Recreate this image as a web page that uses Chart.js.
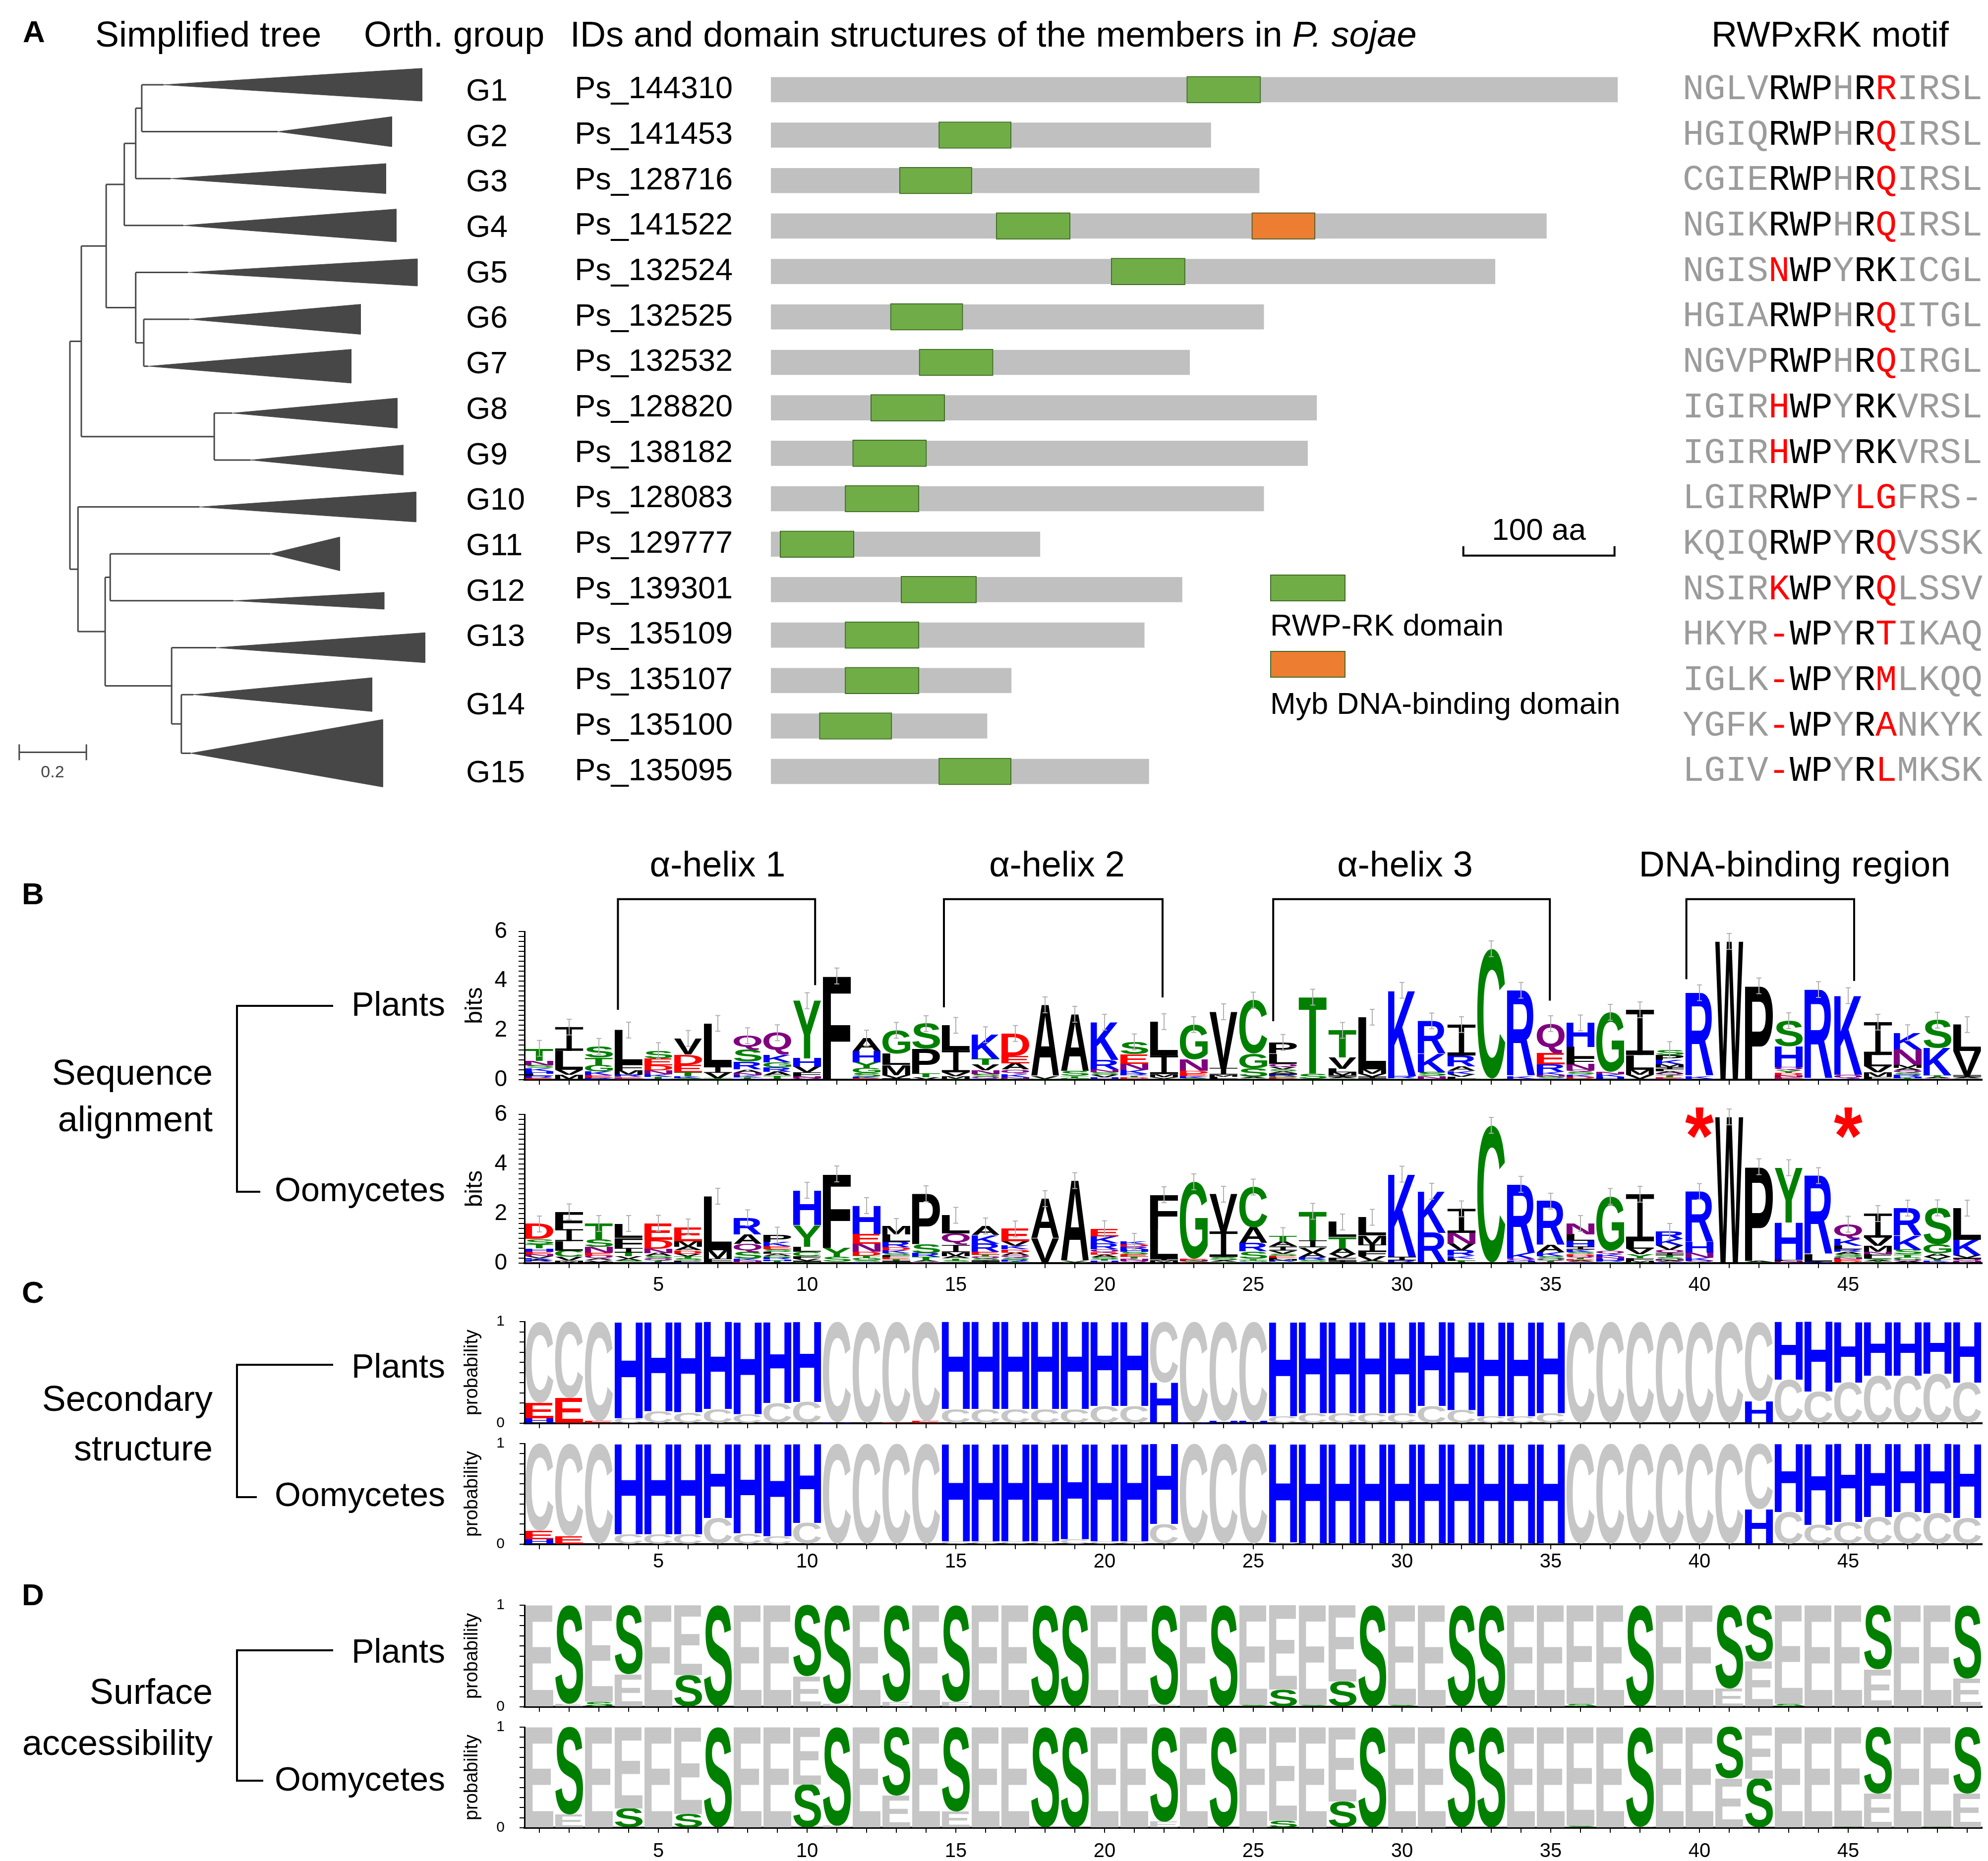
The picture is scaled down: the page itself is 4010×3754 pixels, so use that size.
<!DOCTYPE html>
<html>
<head>
<meta charset="utf-8">
<script src="https://cdn.jsdelivr.net/npm/chart.js@4.4.0/dist/chart.umd.min.js"></script>
<style>
  html, body { margin: 0; padding: 0; background: #fff; }
  body { position: relative; width: 4010px; height: 3754px; overflow: hidden; font-family: "Liberation Sans", Arial, sans-serif; color: #000; }
  canvas { position: absolute; }
  .lbl { position: absolute; white-space: nowrap; line-height: 1; }
  .brk { position: absolute; border: 0 solid #000; }
  .sw { position: absolute; box-sizing: border-box; border: 2px solid #3f6b25; }
</style>
</head>
<body>
<script>
const FONT = '"Liberation Sans", Arial, Helvetica, sans-serif';

// ===================== DATA =====================

// Panel A - simplified tree (branch lengths)
const treeNewick = "((((((G1:0.065,G2:0.405):0.018,G3:0.104):0.034,G4:0.176):0.054,(G5:0.156,(G6:0.136,G7:0.013):0.024):0.088):0.074,(G8:0.053,G9:0.108):0.396):0.034,(G10:0.362,((G11:0.477,G12:0.367):0.015,(G13:0.133,(G14:0.036,G15:0.028):0.029):0.198):0.081):0.024);";
const treeLeafRows = [0, 1, 2, 3, 4, 5, 6, 7, 8, 9, 10, 11, 12, 13, 14.25];
const treeTipX = [1.049, 0.959, 0.941, 0.972, 1.035, 0.866, 0.838, 0.975, 0.993, 1.031, 0.804, 0.936, 1.058, 0.900, 0.932];
const treeSpread = [0.35, 0.32, 0.32, 0.35, 0.29, 0.32, 0.36, 0.32, 0.32, 0.32, 0.36, 0.18, 0.32, 0.36, 0.72];
const treeScaleBar = 0.2;

// Panel A - members and domains (aa)
const proteinIds = ['Ps_144310', 'Ps_141453', 'Ps_128716', 'Ps_141522', 'Ps_132524', 'Ps_132525', 'Ps_132532', 'Ps_128820',
  'Ps_138182', 'Ps_128083', 'Ps_129777', 'Ps_139301', 'Ps_135109', 'Ps_135107', 'Ps_135100', 'Ps_135095'];
const groupNames = ['G1', 'G2', 'G3', 'G4', 'G5', 'G6', 'G7', 'G8', 'G9', 'G10', 'G11', 'G12', 'G13', 'G14', 'G15'];
const groupRows = [0, 1, 2, 3, 4, 5, 6, 7, 8, 9, 10, 11, 12, 13.5, 15];
const proteinLength = [560, 291, 323, 513, 479, 326, 277, 361, 355, 326, 178, 272, 247, 159, 143, 250];
const rwpStart = [275, 111, 85, 149, 225, 79, 98, 66, 54, 49, 6, 86, 49, 49, 32, 111];
const rwpEnd = [324, 159, 133, 198, 274, 127, 147, 115, 103, 98, 55, 136, 98, 98, 80, 159];
const mybStart = [null, null, null, 318, null, null, null, null, null, null, null, null, null, null, null, null];
const mybEnd = [null, null, null, 360, null, null, null, null, null, null, null, null, null, null, null, null];
const aaScaleBar = [458, 558];
const aaScaleRow = 10.25;

// Panel A - RWPxRK motif
const motifs = ['NGLVRWPHRRIRSL', 'HGIQRWPHRQIRSL', 'CGIERWPHRQIRSL', 'NGIKRWPHRQIRSL', 'NGISNWPYRKICGL', 'HGIARWPHRQITGL',
  'NGVPRWPHRQIRGL', 'IGIRHWPYRKVRSL', 'IGIRHWPYRKVRSL', 'LGIRRWPYLGFRS-', 'KQIQRWPYRQVSSK', 'NSIRKWPYRQLSSV',
  'HKYR-WPYRTIKAQ', 'IGLK-WPYRMLKQQ', 'YGFK-WPYRANKYK', 'LGIV-WPYRLMKSK'];
const motifRed = [[9], [9], [9], [9], [4], [9], [9], [4], [4], [8, 9], [9], [4, 9], [4, 9], [4, 9], [4, 9], [4, 9]];

// Panel B - sequence logos (letter + height in bits, per position 1..49)
const bPlants = [
  "T0.5 N0.18 K0.12 S0.12 H0.1 E0.08 R0.08 L0.09", "I0.96 L0.77 M0.2 V0.2", "S0.45 T0.32 G0.25 K0.15 E0.1 R0.08",
  "L1.4 F0.22 M0.18 R0.1 E0.06 K0.05", "S0.32 E0.28 D0.2 N0.15 K0.1 T0.08 R0.05", "V0.65 D0.42 E0.3 T0.15 K0.08 S0.07",
  "L1.75 I0.25 V0.22 T0.06", "Q0.55 S0.5 R0.32 A0.12 N0.1 K0.08 T0.06 H0.05", "Q0.9 K0.3 G0.2 R0.18 A0.15 T0.12 N0.05",
  "Y2.33 H0.35 V0.22 F0.15 N0.08 Q0.07", "F4.2", "A0.52 H0.46 Y0.22 G0.2 S0.16 E0.06 K0.06",
  "G0.95 L0.45 M0.42 V0.12 I0.06", "S1.02 P1.0 T0.15 V0.1", "L1.0 I0.9 V0.15 M0.1 T0.05",
  "K0.97 T0.25 V0.22 N0.15 S0.12 Q0.06 R0.05", "D0.9 E0.3 A0.26 Q0.17 K0.14 N0.06 S0.04", "A2.88 V0.1 S0.05",
  "A2.3 S0.2 T0.08 G0.07", "K1.53 R0.38 N0.12 V0.1 S0.1 Q0.05 H0.05", "S0.5 E0.38 N0.25 K0.15 R0.08 D0.06 T0.06 Q0.05",
  "L1.37 I0.75 M0.12 V0.06 F0.05", "G1.4 N0.47 D0.12 E0.1 K0.08 S0.06", "V2.27 I0.27 L0.08 M0.08 A0.05",
  "C2.17 G0.6 S0.34 A0.06 T0.05", "P0.45 L0.42 Q0.12 V0.1 A0.08 S0.08 I0.06 T0.05 E0.05 G0.05 R0.05", "T3.1 S0.2 A0.04",
  "T1.1 V0.45 L0.14 M0.12 I0.08 A0.06 S0.05", "L2.1 M0.18 V0.12 I0.08 A0.05", "K3.47 R0.1 S0.05",
  "R1.33 K0.75 S0.15 N0.1 Q0.05", "I1.25 R0.45 A0.18 K0.12 V0.1 L0.08 S0.05", "C5.25 S0.05",
  "R3.47 K0.1 Q0.05", "Q1.2 E0.45 R0.3 K0.12 N0.08 S0.07 H0.05", "H0.97 L0.45 F0.25 N0.22 S0.1 Q0.1 D0.08 K0.08 G0.05",
  "G2.4 K0.1 N0.1 H0.08 A0.05", "I1.83 L0.6 M0.2 V0.15 F0.05", "S0.22 P0.2 K0.18 I0.1 M0.1 Q0.08 A0.08 L0.08 T0.07 E0.06 H0.05",
  "R3.37 K0.1 H0.05", "W5.57 R0.03", "P3.77 A0.03",
  "S1.03 H0.85 Q0.12 D0.1 Y0.1 N0.08 E0.06 K0.05", "R3.6 K0.05", "K3.2 Q0.15 R0.05",
  "I1.33 L0.45 V0.25 M0.17 F0.08 A0.05", "K0.67 N0.63 M0.12 Q0.1 A0.1 R0.08 S0.08 T0.06 H0.06", "S1.13 K1.1 T0.08 N0.05 A0.05",
  "L1.07 V0.97 I0.08 A0.06 M0.05"
];
const bOomycetes = [
  "D0.6 S0.22 T0.16 H0.13 E0.1 V0.08 N0.08 K0.06 Q0.05 R0.05 A0.05", "F0.7 I0.48 L0.38 C0.25 V0.15 M0.06 A0.05",
  "T0.63 S0.32 N0.22 Q0.12 E0.12 A0.08 V0.06 I0.05", "L0.57 F0.42 I0.18 T0.15 V0.1 A0.08 M0.05 S0.05",
  "E0.67 D0.35 N0.18 A0.12 S0.1 Q0.08 T0.06 K0.05", "E0.57 M0.22 A0.16 D0.12 T0.1 V0.1 S0.08 P0.06 K0.05",
  "L2.17 M0.35 F0.12 I0.06", "R0.67 A0.38 Q0.32 S0.28 K0.08 E0.05 N0.05",
  "P0.27 K0.18 E0.12 S0.1 G0.08 A0.08 L0.08 R0.07 H0.06 T0.05 V0.04", "H1.4 Y0.87 L0.2 C0.19 F0.1 V0.08 S0.05 I0.05",
  "F2.97 Y0.38 S0.2 L0.05", "H1.13 E0.4 N0.33 D0.15 G0.1 T0.1 S0.06 K0.05",
  "M0.32 L0.3 R0.22 K0.12 D0.12 E0.08 F0.08 S0.08 T0.06 A0.05 I0.05", "P2.03 S0.37 R0.15 T0.14 A0.06 N0.05",
  "L0.73 Q0.47 I0.28 M0.16 A0.1 T0.08 S0.06 V0.05", "A0.37 K0.34 R0.33 E0.12 Q0.08 T0.08 S0.07 I0.06 V0.05",
  "E0.5 V0.18 K0.14 D0.13 A0.12 Q0.1 S0.08 R0.07 T0.06", "A1.6 V0.97 S0.03", "A3.23 V0.06 S0.04",
  "E0.3 K0.29 R0.24 Q0.12 A0.1 D0.1 S0.08 T0.06 N0.05 H0.05", "K0.12 E0.1 S0.1 H0.1 R0.1 D0.1 T0.08 N0.07 Q0.06 A0.05",
  "F1.37 L1.2 I0.08 M0.06 V0.05", "G3.1 N0.05 E0.05 D0.04 S0.04", "V1.5 I1.03 S0.14 A0.06 T0.05",
  "C1.63 A0.63 R0.34 S0.3 G0.06 T0.06 K0.05", "T0.24 A0.2 I0.16 V0.13 E0.08 S0.08 M0.06 L0.06 G0.05 R0.05",
  "T1.17 I0.28 V0.21 A0.2 R0.1 S0.08 L0.05", "L0.6 T0.47 A0.23 V0.14 F0.1 I0.07 M0.05",
  "L0.73 M0.37 I0.27 F0.2 V0.17 A0.06 T0.05", "K3.33 I0.15 R0.08 Q0.03", "K1.67 R1.2 Q0.03",
  "I0.97 N0.43 V0.27 R0.23 K0.1 L0.08 T0.06 A0.05", "C5.53 S0.03", "R2.77 K0.23 Q0.07 H0.06 S0.05",
  "R1.77 A0.3 K0.14 S0.13 Q0.06 N0.05 T0.05", "N0.43 L0.27 H0.23 I0.12 K0.1 D0.08 S0.08 Q0.07 E0.06 T0.06 R0.05 A0.05",
  "G2.2 Q0.12 K0.1 H0.08 N0.08 R0.06 S0.05", "I1.9 L0.3 V0.22 Y0.15 F0.1 M0.06 C0.05",
  "R0.3 K0.25 V0.18 Q0.13 I0.1 S0.08 T0.08 N0.06 H0.05 A0.05", "R2.03 H0.43 N0.2 K0.12 Q0.06 S0.05", "W5.9",
  "P3.8 A0.05 S0.04", "Y2.2 H1.5 F0.06 N0.05 Q0.04", "R3.17 L0.3 K0.06",
  "Q0.6 K0.27 L0.14 A0.1 R0.1 S0.08 E0.06 N0.06 G0.06 T0.05 D0.05", "I0.97 V0.33 M0.23 F0.1 N0.1 L0.08 S0.06 T0.05 A0.05 K0.03",
  "R1.1 K0.57 S0.2 T0.12 C0.1 A0.05 Q0.05 N0.03", "S1.47 G0.37 A0.13 V0.1 T0.06 N0.05 K0.05",
  "L1.27 K0.63 V0.1 Q0.06 I0.06 A0.05 N0.05"
];

// Panel C - secondary structure probability (C coil, H helix, E strand)
const cPlants = [
  "C0.8 E0.15 H0.05", "C0.75 E0.25", "C0.98 E0.02", "H0.95 C0.05", "H0.88 C0.12", "H0.89 C0.11", "H0.86 C0.14", "H0.91 C0.09", "H0.8 C0.2", "H0.79 C0.21",
  "C0.99 H0.01", "C1", "C0.99 E0.01", "C0.98 E0.02", "H0.86 C0.14", "H0.86 C0.14", "H0.86 C0.14", "H0.86 C0.14", "H0.86 C0.14", "H0.83 C0.17",
  "H0.83 C0.17", "C0.6 H0.4", "C0.99 H0.01", "C0.98 H0.02", "C0.98 H0.02", "H0.93 C0.07", "H0.9 C0.1", "H0.9 C0.1", "H0.9 C0.1", "H0.9 C0.1",
  "H0.83 C0.17", "H0.87 C0.13", "H0.93 C0.07", "H0.93 C0.07", "H0.9 C0.1", "C1", "C1", "C1", "C1", "C1",
  "C1", "C0.78 H0.22", "H0.57 C0.43", "H0.69 C0.31", "H0.6 C0.4", "H0.53 C0.47", "H0.53 C0.47", "H0.51 C0.49", "H0.6 C0.4"
];
const cOomycetes = [
  "C0.87 E0.08 H0.05", "C0.92 E0.08", "C1", "H0.9 C0.1", "H0.9 C0.1", "H0.9 C0.1", "H0.74 C0.26", "H0.89 C0.11", "H0.92 C0.08", "H0.79 C0.21",
  "C1", "C1", "C1", "C1", "H0.97 C0.03", "H0.97 C0.03", "H0.97 C0.03", "H0.97 C0.03", "H0.95 C0.05", "H0.97 C0.03",
  "H0.97 C0.03", "H0.8 C0.2", "C1", "C1", "C1", "H0.98 C0.02", "H0.99 C0.01", "H0.99 C0.01", "H0.99 C0.01", "H0.99 C0.01",
  "H0.99 C0.01", "H0.99 C0.01", "H0.99 C0.01", "H0.99 C0.01", "H0.99 C0.01", "C1", "C1", "C1", "C1", "C1",
  "C1", "C0.65 H0.35", "H0.68 C0.32", "H0.81 C0.19", "H0.78 C0.22", "H0.73 C0.27", "H0.68 C0.32", "H0.69 C0.31", "H0.74 C0.26"
];

// Panel D - surface accessibility probability (E exposed, S buried)
const dPlants = [
  "E1", "S0.97 E0.03", "E0.95 S0.05", "S0.68 E0.32", "E1", "E0.69 S0.31", "S1", "E1", "E1", "S0.7 E0.3",
  "S0.97 E0.03", "E1", "S0.95 E0.05", "E1", "S0.95 E0.05", "E1", "E1", "S1", "S1", "E1",
  "E1", "S0.98 E0.02", "E1", "S1", "E0.98 S0.02", "E0.83 S0.17", "E0.98 S0.02", "E0.75 S0.25", "S1", "E0.98 S0.02",
  "E1", "S1", "S1", "E1", "E1", "E0.97 S0.03", "E1", "S1", "E1", "E1",
  "S0.82 E0.18", "S0.55 E0.45", "E0.97 S0.03", "E1", "E1", "S0.63 E0.37", "E1", "E1", "S0.72 E0.28"
];
const dOomycetes = [
  "E1", "S0.87 E0.13", "E1", "E0.81 S0.19", "E1", "E0.86 S0.14", "S1", "E1", "E1", "E0.57 S0.43",
  "S0.98 E0.02", "E1", "S0.68 E0.32", "E1", "S0.84 E0.16", "E1", "E1", "S1", "S1", "E1",
  "E1", "S0.94 E0.06", "E1", "S1", "E1", "E0.93 S0.07", "E1", "E0.74 S0.26", "S1", "E1",
  "E1", "S1", "S1", "E1", "E1", "E0.98 S0.02", "E1", "S0.99 E0.01", "E1", "E1",
  "S0.51 E0.49", "E0.51 S0.49", "E1", "E1", "E0.99 S0.01", "S0.66 E0.34", "E1", "E0.99 S0.01", "S0.66 E0.34"
];

// annotations of the plant logo
const helixNames = ['\u03b1-helix 1', '\u03b1-helix 2', '\u03b1-helix 3', 'DNA-binding region'];
const helixFrom = [3.64, 14.6, 25.67, 39.56];
const helixTo = [10.27, 21.95, 34.97, 45.2];
const helixLeftEnd = [2.83, 2.93, 2.37, 4.07];
const helixRightEnd = [3.83, 3.33, 3.2, 4.0];
const helixLabelAt = [6.99, 18.4, 30.1, 43.2];
const bracketTopBits = 7.31;
const helixLabelBits = 8.23;
const starPositions = [40, 45];
const errorBits = 0.32;

const positions = Array.from({ length: 49 }, (_, i) => String(i + 1));

const chemColours = { G: '#008000', S: '#008000', T: '#008000', Y: '#008000', C: '#008000', N: '#800080', Q: '#800080',
  K: '#0000ff', R: '#0000ff', H: '#0000ff', D: '#ff0000', E: '#ff0000',
  A: '#000', V: '#000', L: '#000', I: '#000', P: '#000', W: '#000', F: '#000', M: '#000' };
const ssColours = { C: '#c6c6c6', H: '#0000ff', E: '#ff0000' };
const saColours = { E: '#c6c6c6', S: '#008000' };

// ===================== HELPERS =====================

function makeCanvas(left, top, w, h) {
  const c = document.createElement('canvas');
  c.width = w; c.height = h;
  c.style.left = left + 'px'; c.style.top = top + 'px';
  c.style.width = w + 'px'; c.style.height = h + 'px';
  document.body.appendChild(c);
  return c;
}

function label(html, x, y, size, align, extra) {
  const d = document.createElement('div');
  d.className = 'lbl';
  d.innerHTML = html;
  d.style.cssText = `left:${x}px;top:${y}px;font-size:${size}px;${extra || ''}`;
  d.style.transform = align === 'right' ? 'translate(-100%,-50%)' : align === 'center' ? 'translate(-50%,-50%)' : 'translateY(-50%)';
  document.body.appendChild(d);
}

function box(cls, left, top, w, h, css) {
  const d = document.createElement('div');
  d.className = cls;
  d.style.cssText = `left:${left}px;top:${top}px;width:${w}px;height:${h}px;${css || ''}`;
  document.body.appendChild(d);
}

const glyphCache = {};
function drawGlyph(ctx, ch, x, y, w, h, colour) {
  ctx.save();
  ctx.fillStyle = colour;
  if (ch === 'I') {
    // logo "I" has serifs: two bars and a narrow stem
    const bar = Math.max(1.5, h * 0.1), stem = w * 0.19;
    ctx.fillRect(x, y, w, bar);
    ctx.fillRect(x, y + h - bar, w, bar);
    ctx.fillRect(x + (w - stem) / 2, y, stem, h);
    ctx.restore();
    return;
  }
  ctx.font = `bold 200px ${FONT}`;
  ctx.textAlign = 'left';
  ctx.textBaseline = 'alphabetic';
  const m = glyphCache[ch] || (glyphCache[ch] = ctx.measureText(ch));
  const gw = m.actualBoundingBoxLeft + m.actualBoundingBoxRight;
  const gh = m.actualBoundingBoxAscent + m.actualBoundingBoxDescent;
  ctx.translate(x, y);
  ctx.scale(w / gw, h / gh);
  ctx.fillText(ch, m.actualBoundingBoxLeft, m.actualBoundingBoxAscent);
  ctx.restore();
}

function parseNewick(s) {
  let i = 0;
  function node() {
    const n = { children: [], name: '', len: 0 };
    if (s[i] === '(') {
      i++;
      n.children.push(node());
      while (s[i] === ',') { i++; n.children.push(node()); }
      i++;
    }
    while (i < s.length && !':,);'.includes(s[i])) n.name += s[i++];
    if (s[i] === ':') {
      i++;
      let num = '';
      while (i < s.length && !',);'.includes(s[i])) num += s[i++];
      n.len = parseFloat(num);
    }
    return n;
  }
  return node();
}

Chart.defaults.font.family = FONT;
Chart.defaults.color = '#000';

// ===================== PANEL A: TREE =====================

const tree = parseNewick(treeNewick);
const leaves = [];
(function place(n, x0) {
  n.x = x0 + n.len;
  if (!n.children.length) { n.y = treeLeafRows[leaves.length]; leaves.push(n); return; }
  n.children.forEach(c => place(c, n.x));
  n.y = (n.children[0].y + n.children[n.children.length - 1].y) / 2;
})(tree, 0);

const edgePts = [];
(function edges(n) {
  if (!n.children.length) return;
  const a = n.children[0], b = n.children[n.children.length - 1];
  edgePts.push({ x: n.x, y: a.y }, { x: n.x, y: b.y }, { x: null, y: null });
  n.children.forEach(c => {
    edgePts.push({ x: n.x, y: c.y }, { x: c.x, y: c.y }, { x: null, y: null });
    edges(c);
  });
})(tree);

// scale bar of the tree
const sbX = -0.151, sbY = 14.23;
edgePts.push({ x: sbX, y: sbY }, { x: sbX + treeScaleBar, y: sbY }, { x: null, y: null },
  { x: sbX, y: sbY - 0.17 }, { x: sbX, y: sbY + 0.17 }, { x: null, y: null },
  { x: sbX + treeScaleBar, y: sbY - 0.17 }, { x: sbX + treeScaleBar, y: sbY + 0.17 });

const treeDatasets = [{ data: edgePts, showLine: true, borderColor: '#474747', borderWidth: 3, pointRadius: 0, spanGaps: false }];
leaves.forEach((lf, i) => {
  treeDatasets.push({
    data: [{ x: lf.x, y: lf.y }, { x: treeTipX[i], y: lf.y - treeSpread[i] }, { x: treeTipX[i], y: lf.y + treeSpread[i] }, { x: lf.x, y: lf.y }],
    showLine: true, fill: 'shape', backgroundColor: '#474747', borderColor: '#474747', borderWidth: 1, pointRadius: 0
  });
});

new Chart(makeCanvas(0, 100, 900, 1550), {
  type: 'scatter',
  data: { datasets: treeDatasets },
  options: {
    responsive: false, animation: false, events: [], devicePixelRatio: 1,
    layout: { padding: 0 },
    plugins: { legend: { display: false }, tooltip: { enabled: false } },
    scales: {
      x: { type: 'linear', display: false, min: -0.2083, max: 1.121 },
      y: { type: 'linear', display: false, min: -0.75, max: 15.63, reverse: true }
    }
  }
});
label(String(treeScaleBar), 106, 1556, 34, 'center', 'color:#444;');

// ===================== PANEL A: DOMAINS =====================

const aaScalePlugin = {
  id: 'aaScale',
  afterDatasetsDraw(chart) {
    const { ctx, scales: { x, y } } = chart;
    const xa = x.getPixelForValue(aaScaleBar[0]), xb = x.getPixelForValue(aaScaleBar[1]);
    const yb = y.getPixelForValue(aaScaleRow);
    ctx.save();
    ctx.strokeStyle = '#000'; ctx.lineWidth = 4;
    ctx.beginPath();
    ctx.moveTo(xa, yb - 19); ctx.lineTo(xa, yb); ctx.lineTo(xb, yb); ctx.lineTo(xb, yb - 19);
    ctx.stroke();
    ctx.fillStyle = '#000'; ctx.font = `62px ${FONT}`; ctx.textAlign = 'center'; ctx.textBaseline = 'alphabetic';
    ctx.fillText(`${aaScaleBar[1] - aaScaleBar[0]} aa`, (xa + xb) / 2, yb - 32);
    ctx.restore();
  }
};

new Chart(makeCanvas(1100, 135, 2300, 1467), {
  type: 'bar',
  data: {
    labels: proteinIds,
    datasets: [
      { data: proteinLength.map(l => [0, l]), backgroundColor: '#c0c0c0', barThickness: 50, grouped: false, order: 3 },
      { data: rwpStart.map((s, i) => [s, rwpEnd[i]]), backgroundColor: '#70ad47', borderColor: '#3f6b25', borderWidth: 2,
        borderSkipped: false, barThickness: 54, grouped: false, order: 1 },
      { data: mybStart.map((s, i) => (s == null ? null : [s, mybEnd[i]])), backgroundColor: '#ed7d31', borderColor: '#4f5d2a',
        borderWidth: 2, borderSkipped: false, barThickness: 54, grouped: false, order: 2 }
    ]
  },
  plugins: [aaScalePlugin],
  options: {
    indexAxis: 'y', responsive: false, animation: false, events: [], devicePixelRatio: 1,
    layout: { padding: 0 },
    plugins: { legend: { display: false }, tooltip: { enabled: false } },
    scales: {
      x: { display: false, min: 0, max: 605 },
      y: {
        afterFit: a => { a.width = 455; a.paddingTop = 0; a.paddingBottom = 0; },
        grid: { display: false, drawTicks: false },
        border: { display: false },
        ticks: { color: '#000', padding: 77, autoSkip: false, font: { family: FONT, size: 63 } }
      }
    }
  }
});

// ===================== PANEL A: TEXT =====================

label('A', 46, 64, 62, 'left', 'font-weight:bold;');
label('Simplified tree', 192, 69, 72);
label('Orth. group', 734, 69, 72);
label('IDs and domain structures of the members in <i>P. sojae</i>', 1150, 69, 72);
label('RWPxRK motif', 3452, 69, 72);
groupNames.forEach((g, i) => label(g, 940, 181 + 91.69 * groupRows[i], 63));
motifs.forEach((m, r) => {
  const html = m.split('').map((ch, k) => {
    let col = (k <= 3 || k === 7 || k >= 10) ? '#9b9b9b' : '#000';
    if (motifRed[r].includes(k)) col = '#ff0000';
    return `<span style="color:${col}">${ch}</span>`;
  }).join('');
  label(html, 3394, 181 + 91.69 * r, 72, 'left', 'font-family:"Liberation Mono",monospace;');
});
box('sw', 2562, 1159, 152, 54, 'background:#70ad47;');
box('sw', 2562, 1313, 152, 54, 'background:#ed7d31;');
label('RWP-RK domain', 2562, 1261, 62);
label('Myb DNA-binding domain', 2562, 1419, 62);

// ===================== PANELS B-D: LOGOS =====================

function makeLogoPlugin(cfg, cols) {
  return {
    id: 'logoLetters',
    afterDatasetsDraw(chart) {
      const ctx = chart.ctx, xs = chart.scales.x, ys = chart.scales.y;
      chart.data.datasets.forEach((ds, di) => {
        chart.getDatasetMeta(di).data.forEach((el, i) => {
          const ch = ds.letters[i];
          if (!ch) return;
          const p = el.getProps(['x', 'y', 'base', 'width'], true);
          const h = Math.abs(p.base - p.y);
          if (h < 0.8) return;
          drawGlyph(ctx, ch, p.x - p.width / 2, Math.min(p.y, p.base), p.width, h, cfg.colours[ch] || '#000');
        });
      });
      if (cfg.errors) {
        ctx.save();
        ctx.strokeStyle = '#b0b0b0'; ctx.lineWidth = 2;
        cols.forEach((c, i) => {
          const tot = c.reduce((s, t) => s + t[1], 0);
          const x = xs.getPixelForValue(i);
          const y1 = ys.getPixelForValue(tot + errorBits), y2 = ys.getPixelForValue(Math.max(0, tot - errorBits));
          ctx.beginPath();
          ctx.moveTo(x, y1); ctx.lineTo(x, y2);
          ctx.moveTo(x - 5, y1); ctx.lineTo(x + 5, y1);
          ctx.moveTo(x - 5, y2); ctx.lineTo(x + 5, y2);
          ctx.stroke();
        });
        ctx.restore();
      }
      if (cfg.brackets) {
        ctx.save();
        ctx.strokeStyle = '#000'; ctx.lineWidth = 4; ctx.lineCap = 'butt';
        ctx.fillStyle = '#000'; ctx.font = `72px ${FONT}`; ctx.textAlign = 'center'; ctx.textBaseline = 'alphabetic';
        const yt = ys.getPixelForValue(bracketTopBits);
        helixNames.forEach((name, k) => {
          const xa = xs.getPixelForValue(helixFrom[k] - 1), xb = xs.getPixelForValue(helixTo[k] - 1);
          ctx.beginPath();
          ctx.moveTo(xa, ys.getPixelForValue(helixLeftEnd[k]));
          ctx.lineTo(xa, yt); ctx.lineTo(xb, yt);
          ctx.lineTo(xb, ys.getPixelForValue(helixRightEnd[k]));
          ctx.stroke();
          ctx.fillText(name, xs.getPixelForValue(helixLabelAt[k] - 1), ys.getPixelForValue(helixLabelBits));
        });
        ctx.restore();
      }
      if (cfg.stars) {
        starPositions.forEach(p => {
          const x = xs.getPixelForValue(p - 1);
          const yTop = ys.getPixelForValue(6.28), yBot = ys.getPixelForValue(5.04);
          drawGlyph(ctx, '*', x - 29, yTop, 58, yBot - yTop, '#ff0000');
        });
      }
    }
  };
}

function logoChart(cfg) {
  const cols = cfg.cols.map(s => s.trim().split(/\s+/).map(t => [t[0], parseFloat(t.slice(1))]).sort((a, b) => a[1] - b[1]));
  const depth = Math.max(...cols.map(c => c.length));
  const datasets = [];
  for (let k = 0; k < depth; k++) {
    datasets.push({
      data: cols.map(c => (c[k] ? c[k][1] : 0)),
      letters: cols.map(c => (c[k] ? c[k][0] : '')),
      backgroundColor: 'rgba(0,0,0,0)', borderWidth: 0,
      barPercentage: 0.94, categoryPercentage: 1
    });
  }
  const height = cfg.padTop + cfg.areaH + cfg.axisH;
  return new Chart(makeCanvas(930, cfg.top, 3080, height), {
    type: 'bar',
    data: { labels: positions, datasets },
    plugins: [makeLogoPlugin(cfg, cols)],
    options: {
      responsive: false, animation: false, events: [], devicePixelRatio: 1,
      layout: { padding: { top: cfg.padTop, right: 12, left: 0, bottom: 0 } },
      plugins: { legend: { display: false }, tooltip: { enabled: false } },
      scales: {
        x: {
          stacked: true,
          afterFit: a => { a.height = cfg.axisH; a.paddingLeft = 0; a.paddingRight = 0; },
          grid: { display: true, drawOnChartArea: false, offset: false, tickLength: 10, color: '#000', lineWidth: 2 },
          border: { display: true, color: '#000', width: 4 },
          ticks: {
            autoSkip: false, maxRotation: 0, minRotation: 0, padding: cfg.labelPad || 0, color: '#000',
            font: { family: FONT, size: 40 },
            callback: (v, i) => (cfg.showX && (i + 1) % 5 === 0 ? String(i + 1) : '')
          }
        },
        y: {
          stacked: true, min: 0, max: cfg.max,
          afterFit: a => { a.width = 128; a.paddingTop = 0; a.paddingBottom = 0; },
          title: { display: true, text: cfg.yTitle, color: '#000', font: { family: FONT, size: cfg.titleSize }, padding: 0 },
          grid: { display: true, drawOnChartArea: false, tickLength: cfg.yTick, color: '#000', lineWidth: 2 },
          border: { display: true, color: '#000', width: 3 },
          ticks: {
            stepSize: cfg.step, autoSkip: false, padding: cfg.yPad, color: '#000',
            font: { family: FONT, size: cfg.yFont },
            callback: v => (cfg.yLabels.some(l => Math.abs(l - v) < 1e-6) ? String(v) : '')
          }
        }
      }
    }
  });
}

const bitsAxis = { max: 6, step: 0.2, yTitle: 'bits', titleSize: 48, yFont: 46, yTick: 12, yPad: 23, yLabels: [0, 2, 4, 6] };
const probAxis = { max: 1, step: 0.1, yTitle: 'probability', titleSize: 38, yFont: 30, yTick: 10, yPad: 30, yLabels: [0, 1] };

logoChart(Object.assign({}, bitsAxis, { cols: bPlants, colours: chemColours, top: 1700, padTop: 179, areaH: 299, axisH: 20, showX: false, errors: true, brackets: true }));
logoChart(Object.assign({}, bitsAxis, { cols: bOomycetes, colours: chemColours, top: 2200, padTop: 48, areaH: 300, axisH: 72, showX: true, labelPad: 11, errors: true, stars: true }));
logoChart(Object.assign({}, probAxis, { cols: cPlants, colours: ssColours, top: 2640, padTop: 26, areaH: 205, axisH: 20, showX: false }));
logoChart(Object.assign({}, probAxis, { cols: cOomycetes, colours: ssColours, top: 2890, padTop: 22, areaH: 203, axisH: 62, showX: true, labelPad: 2 }));
logoChart(Object.assign({}, probAxis, { cols: dPlants, colours: saColours, top: 3200, padTop: 38, areaH: 205, axisH: 20, showX: false }));
logoChart(Object.assign({}, probAxis, { cols: dOomycetes, colours: saColours, top: 3466, padTop: 18, areaH: 203, axisH: 72, showX: true, labelPad: 14 }));

// ===================== PANELS B-D: LEFT LABELS =====================

const sideGroups = [
  { letter: 'B', letterY: 1803, lines: ['Sequence', 'alignment'], lineY: [2163, 2257], top: 2029, bottom: 2404, bottomW: 49, plantsY: 2025, oomyY: 2399 },
  { letter: 'C', letterY: 2607, lines: ['Secondary', 'structure'], lineY: [2821, 2921], top: 2753, bottom: 3020, bottomW: 42, plantsY: 2755, oomyY: 3014 },
  { letter: 'D', letterY: 3217, lines: ['Surface', 'accessibility'], lineY: [3412, 3515], top: 3329, bottom: 3592, bottomW: 55, plantsY: 3330, oomyY: 3588 }
];
sideGroups.forEach(g => {
  label(g.letter, 44, g.letterY, 62, 'left', 'font-weight:bold;');
  g.lines.forEach((t, k) => label(t, 429, g.lineY[k], 72, 'right'));
  box('brk', 476, g.top - 2, 192, g.bottom - g.top, 'border-left-width:4px;border-top-width:4px;');
  box('brk', 476, g.bottom - 2, g.bottomW, 0, 'border-top-width:4px;');
  label('Plants', 898, g.plantsY, 68, 'right');
  label('Oomycetes', 898, g.oomyY, 68, 'right');
});
</script>
</body>
</html>
